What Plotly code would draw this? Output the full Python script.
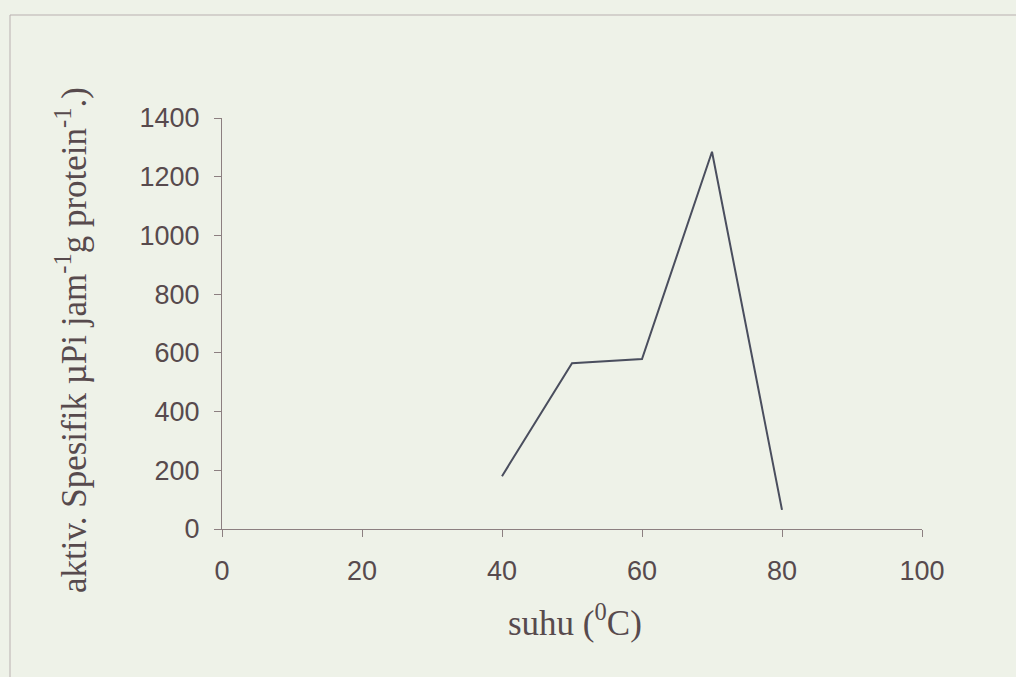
import plotly.graph_objects as go

# Specific enzyme activity at different temperatures
suhu = [40, 50, 60, 70, 80]
aktivitas = [180, 565, 579, 1285, 65]

x_ticks = [0, 20, 40, 60, 80, 100]
y_ticks = [0, 200, 400, 600, 800, 1000, 1200, 1400]

paper_bg = "#eef2e8"
text_col = "#574a4d"
axis_col = "#8c7f80"

fig = go.Figure()
fig.add_trace(go.Scatter(
    x=suhu, y=aktivitas, mode="lines",
    line=dict(color="#4a4e5e", width=2),
    showlegend=False, hoverinfo="skip",
))

L, T, W, H = 222, 118, 700, 411
tick_font = dict(family="Liberation Sans, Arial", size=27, color=text_col)
title_font = dict(family="Liberation Serif, Times New Roman", size=35, color=text_col)

fig.update_layout(
    width=1016, height=677,
    margin=dict(l=L, r=1016 - L - W, t=T, b=677 - T - H, pad=0),
    paper_bgcolor=paper_bg, plot_bgcolor=paper_bg,
    xaxis=dict(
        range=[0, 100], tickvals=x_ticks, ticktext=[str(v) for v in x_ticks],
        showgrid=False, zeroline=False, showline=True, linecolor=axis_col,
        linewidth=1, ticks="outside", ticklen=7, tickcolor=axis_col,
        tickfont=tick_font, ticklabelstandoff=11, fixedrange=True,
    ),
    yaxis=dict(
        range=[0, 1400], tickvals=y_ticks, ticktext=[str(v) for v in y_ticks],
        showgrid=False, zeroline=False, showline=True, linecolor=axis_col,
        linewidth=1, ticks="outside", ticklen=7, tickcolor=axis_col,
        tickfont=tick_font, ticklabelstandoff=9, fixedrange=True,
    ),
    shapes=[dict(
        type="rect", xref="paper", yref="paper",
        x0=(10 - L) / W, x1=(1040 - L) / W,
        y0=(T + H - 700) / H, y1=(T + H - 15) / H,
        line=dict(color="#b9b0b0", width=1), fillcolor="rgba(0,0,0,0)",
        layer="below",
    )],
    annotations=[
        dict(
            text="suhu (<sup>0</sup>C)", xref="paper", yref="paper",
            x=(575 - L) / W, y=(T + H - 620) / H,
            xanchor="center", yanchor="middle", showarrow=False,
            font=title_font,
        ),
        dict(
            text="aktiv. Spesifik µPi jam<sup>-1</sup>g protein<sup>-1</sup>.)",
            xref="paper", yref="paper",
            x=(71 - L) / W, y=(T + H - 340) / H,
            xanchor="center", yanchor="middle", textangle=-90, showarrow=False,
            font=title_font,
        ),
    ],
)

fig.write_html("out.html")
